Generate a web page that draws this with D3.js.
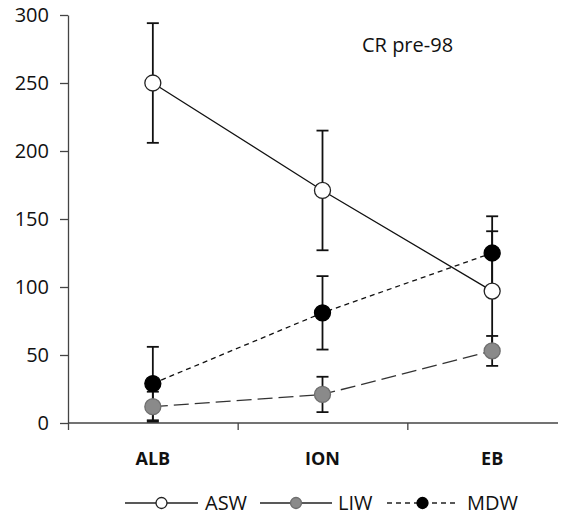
<!DOCTYPE html>
<html>
<head>
<meta charset="utf-8">
<script src="https://cdn.jsdelivr.net/npm/d3@7"></script>
<style>
  body { margin: 0; background: #fff; }
  svg text { font-family: "Open Sans", "DejaVu Sans", sans-serif; fill: #111; }
</style>
</head>
<body>
<svg id="chart" width="572" height="517"></svg>
<script>
// Regions on the x axis
const categories = ['ALB', 'ION', 'EB'];

// Series means and error half-widths
const aswValues = [250, 171, 97];
const aswErrors = [44, 44, 44];
const liwValues = [12, 21, 53];
const liwErrors = [11, 13, 11];
const mdwValues = [29, 81, 125];
const mdwErrors = [27, 27, 27];

const yTicks = [0, 50, 100, 150, 200, 250, 300];
const title = 'CR pre-98';

const series = [
    { name: 'ASW', values: aswValues, errors: aswErrors, fill: '#fff', stroke: '#222', dash: null },
    { name: 'LIW', values: liwValues, errors: liwErrors, fill: '#8a8a8a', stroke: '#6e6e6e', dash: '15,6' },
    { name: 'MDW', values: mdwValues, errors: mdwErrors, fill: '#000', stroke: '#000', dash: '5,4' }
];

const svg = d3.select('#chart');

const x = d3.scaleBand().domain(categories).range([68, 577]);
const xEdges = d3.scaleLinear().domain([0, categories.length]).range([68, 577]);
const y = d3.scaleLinear().domain([0, 300]).range([423, 15]);

// Y axis
const yAxis = svg.append('g')
    .attr('transform', 'translate(68,0)')
    .call(d3.axisLeft(y).tickValues(yTicks).tickSize(8).tickPadding(11).tickSizeOuter(0));
yAxis.select('.domain').attr('stroke', '#444').attr('stroke-width', 1.3);
yAxis.selectAll('.tick line').attr('stroke', '#444').attr('stroke-width', 1.3);
yAxis.selectAll('.tick text').attr('font-size', 20).attr('font-family', '"Open Sans", sans-serif').attr('fill', '#111');

// X axis: ticks sit between the categories
const xAxis = svg.append('g')
    .attr('transform', 'translate(0,423)')
    .call(d3.axisBottom(xEdges).tickValues(d3.range(categories.length + 1)).tickFormat('').tickSize(7).tickSizeOuter(0));
xAxis.select('.domain').attr('d', 'M68,0H558').attr('stroke', '#444').attr('stroke-width', 1.3);
xAxis.selectAll('.tick line').attr('stroke', '#444').attr('stroke-width', 1.3);

const xLabels = svg.append('g')
    .attr('transform', 'translate(0,423)')
    .call(d3.axisBottom(x).tickSize(0).tickPadding(29));
xLabels.select('.domain').remove();
xLabels.selectAll('.tick text')
    .attr('font-size', 18)
    .attr('font-weight', 'bold')
    .attr('font-family', '"Open Sans", sans-serif')
    .attr('fill', '#111');

// Title
svg.append('text')
    .attr('x', 362)
    .attr('y', 52)
    .attr('font-size', 20)
    .text(title);

const cx = c => x(c) + x.bandwidth() / 2;

// Lines
const line = d3.line().x(d => cx(d.cat)).y(d => y(d.v));
series.forEach(s => {
    const pts = categories.map((cat, i) => ({ cat, v: s.values[i] }));
    svg.append('path')
        .attr('d', line(pts))
        .attr('fill', 'none')
        .attr('stroke', s.name === 'LIW' ? '#333' : '#111')
        .attr('stroke-width', 1.3)
        .attr('stroke-dasharray', s.dash);
});

// Error bars
series.forEach(s => {
    const g = svg.append('g').attr('stroke', '#111').attr('stroke-width', 1.8);
    categories.forEach((cat, i) => {
        const lo = Math.max(0, s.values[i] - s.errors[i]);
        const hi = s.values[i] + s.errors[i];
        g.append('line').attr('x1', cx(cat)).attr('x2', cx(cat)).attr('y1', y(lo)).attr('y2', y(hi));
        [lo, hi].forEach(v => {
            g.append('line').attr('x1', cx(cat) - 6).attr('x2', cx(cat) + 6).attr('y1', y(v)).attr('y2', y(v));
        });
    });
});

// Markers
series.forEach(s => {
    svg.append('g').selectAll('circle')
        .data(categories.map((cat, i) => ({ cat, v: s.values[i] })))
        .join('circle')
        .attr('cx', d => cx(d.cat))
        .attr('cy', d => y(d.v))
        .attr('r', 8)
        .attr('fill', s.fill)
        .attr('stroke', s.stroke)
        .attr('stroke-width', 1.3);
});

// Legend
const legendItems = [
    { s: series[0], x0: 125, x1: 198, tx: 205 },
    { s: series[1], x0: 260, x1: 332, tx: 338 },
    { s: series[2], x0: 387, x1: 458, tx: 467 }
];
const legend = svg.append('g').attr('transform', 'translate(0,503)');
legendItems.forEach(it => {
    legend.append('line')
        .attr('x1', it.x0).attr('x2', it.x1)
        .attr('stroke', '#222').attr('stroke-width', 1.3)
        .attr('stroke-dasharray', it.s.name === 'MDW' ? '5,4' : null);
    legend.append('circle')
        .attr('cx', (it.x0 + it.x1) / 2)
        .attr('r', 5.5)
        .attr('fill', it.s.fill)
        .attr('stroke', it.s.stroke)
        .attr('stroke-width', 1.3);
    legend.append('text')
        .attr('x', it.tx)
        .attr('y', 7)
        .attr('font-size', 20)
        .text(it.s.name);
});
</script>
</body>
</html>
